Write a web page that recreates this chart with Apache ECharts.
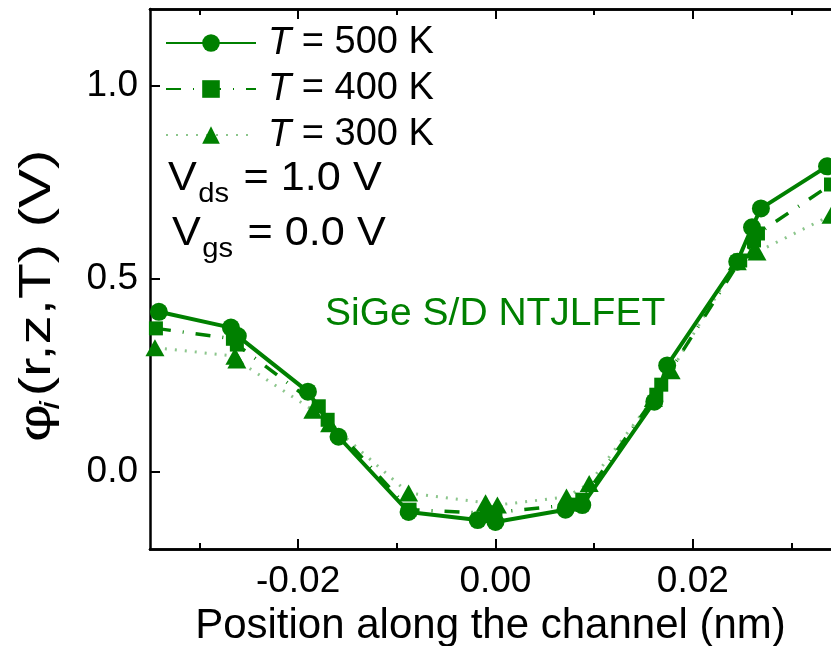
<!DOCTYPE html>
<html><head><meta charset="utf-8">
<script src="https://cdn.jsdelivr.net/npm/echarts@6/dist/echarts.min.js"></script>
<style>html,body{margin:0;padding:0;background:#fff}#c{width:831px;height:646px}</style>
</head><body><div id="c"></div>
<script>
// ---- data ----
const seriesNames = ['T = 500 K', 'T = 400 K', 'T = 300 K'];
const x500 = [-0.0341,-0.0268,-0.0261,-0.0190,-0.0159,-0.0088,-0.0018,0.0000,0.0071,0.0088,0.0161,0.0174,0.0245,0.0260,0.0269,0.0336];
const y500 = [0.415,0.374,0.352,0.208,0.091,-0.104,-0.125,-0.130,-0.098,-0.086,0.182,0.276,0.545,0.634,0.683,0.792];
const x400 = [-0.0344,-0.0266,-0.0262,-0.0179,-0.0170,-0.0087,-0.0009,0.0000,0.0078,0.0088,0.0163,0.0168,0.0248,0.0262,0.0266,0.0340];
const y400 = [0.372,0.345,0.330,0.170,0.135,-0.098,-0.107,-0.105,-0.085,-0.072,0.200,0.226,0.548,0.600,0.618,0.745];
const x300 = [-0.0345,-0.0264,-0.0262,-0.0185,-0.0168,-0.0088,-0.0010,0.0002,0.0072,0.0095,0.0160,0.0178,0.0245,0.0262,0.0265,0.0340];
const y300 = [0.322,0.300,0.290,0.160,0.125,-0.055,-0.080,-0.086,-0.065,-0.030,0.190,0.262,0.545,0.575,0.570,0.665];
const xMajorTicks = [-0.02, 0.00, 0.02];
const xMinorTicks = [-0.03, -0.01, 0.01, 0.03];
const yMajorTicks = [0.0, 0.5, 1.0];
const xRange = [-0.035, 0.034];
const yRange = [-0.2, 1.2];

const FONT = 'Liberation Sans';
const GREEN = '#008000';
const pts = (xs, ys) => xs.map((x, i) => [x, ys[i]]);

const gridBox = {left: 150, right: 0, top: 9, bottom: 97, containLabel: false, outerBoundsMode: 'none'};

function xAxis(gridIndex, pos, ticks, len, withLabels) {
  return {
    type: 'value', gridIndex, position: pos, min: xRange[0], max: xRange[1],
    axisLine: {show: true, onZero: false, lineStyle: {color: '#000', width: 2.5}},
    axisTick: {show: true, inside: true, length: len, customValues: ticks, lineStyle: {color: '#000', width: 2}},
    axisLabel: withLabels ? {show: true, customValues: ticks, margin: 14, color: '#000',
      fontFamily: FONT, fontSize: 37, formatter: v => v.toFixed(2)} : {show: false},
    splitLine: {show: false}
  };
}
function t(text, x, y, size, extra) {
  return {type: 'text', x, y, style: Object.assign({text, fontFamily: FONT, fontSize: size, fill: '#000', verticalAlign: 'top'}, extra || {})};
}

const chart = echarts.init(document.getElementById('c'), null, {renderer: 'canvas'});
const option = {
  animation: false,
  backgroundColor: '#fff',
  grid: [Object.assign({}, gridBox), Object.assign({}, gridBox)],
  xAxis: [
    Object.assign(xAxis(0, 'bottom', xMajorTicks, 10, true), {
      name: 'Position along the channel (nm)', nameLocation: 'middle', nameGap: 56,
      nameTextStyle: {fontFamily: FONT, fontSize: 42, color: '#000'}
    }),
    xAxis(0, 'top', xMajorTicks, 10, false),
    xAxis(1, 'bottom', xMinorTicks, 6, false),
    xAxis(1, 'top', xMinorTicks, 6, false)
  ],
  yAxis: [
    {type: 'value', gridIndex: 0, position: 'left', min: yRange[0], max: yRange[1],
     axisLine: {show: true, onZero: false, lineStyle: {color: '#000', width: 2.5}},
     axisTick: {show: true, inside: true, length: 10, customValues: yMajorTicks, lineStyle: {color: '#000', width: 2}},
     axisLabel: {show: true, customValues: yMajorTicks, margin: 12, color: '#000', fontFamily: FONT, fontSize: 37,
       formatter: v => v.toFixed(1)},
     splitLine: {show: false}},
    {type: 'value', gridIndex: 1, min: yRange[0], max: yRange[1], show: false}
  ],
  legend: {
    orient: 'vertical', left: 160, top: 19, itemWidth: 90, itemHeight: 22, itemGap: 8,
    data: seriesNames,
    textStyle: {fontFamily: FONT, fontSize: 38, color: '#000', padding: [0, 0, 0, 7],
      rich: {i: {fontStyle: 'italic', fontFamily: FONT, fontSize: 38, color: '#000'}}},
    formatter: n => '{i|T}' + n.slice(1)
  },
  series: [
    {name: seriesNames[2], type: 'line', data: pts(x300, y300), symbol: 'triangle', symbolSize: [19, 17],
     itemStyle: {color: GREEN}, lineStyle: {color: 'rgba(0,128,0,0.45)', width: 3, type: [2, 8]}, z: 2},
    {name: seriesNames[1], type: 'line', data: pts(x400, y400), symbol: 'rect', symbolSize: 14,
     itemStyle: {color: GREEN}, lineStyle: {color: GREEN, width: 3.5, type: [15, 12, 1, 12]}, z: 3},
    {name: seriesNames[0], type: 'line', data: pts(x500, y500), symbol: 'circle', symbolSize: 18,
     itemStyle: {color: GREEN}, lineStyle: {color: GREEN, width: 4}, z: 4}
  ],
  graphic: [
    {type: 'group', x: 168, y: 159, scaleX: 1.08, children: [
      t('V', 0, 0, 40), t('ds', 28, 22, 27), t('= 1.0 V', 70, 0, 40)
    ]},
    {type: 'group', x: 172, y: 214, scaleX: 1.08, children: [
      t('V', 0, 0, 40), t('gs', 28, 22, 27), t('= 0.0 V', 70, 0, 40)
    ]},
    t('SiGe S/D NTJLFET', 325, 295, 39, {fill: GREEN}),
    {type: 'group', x: 15, y: 442, rotation: Math.PI / 2, scaleX: 1.3, children: [
      t('φ', 0, 0, 45), t('i', 25, 22, 28, {fontStyle: 'italic'}), t('(r,z,T) (V)', 35, 0, 45)
    ]}
  ]
};
chart.setOption(option);
</script>
</body></html>
